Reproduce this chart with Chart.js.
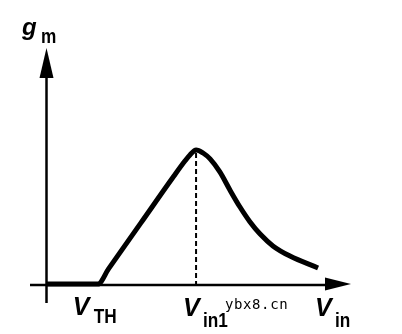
<!DOCTYPE html>
<html>
<head>
<meta charset="utf-8">
<script src="https://cdn.jsdelivr.net/npm/chart.js@4"></script>
<style>
html,body{margin:0;padding:0;background:#fff;}
#wrap{width:402px;height:334px;position:relative;}
</style>
</head>
<body>
<div id="wrap"><canvas id="c"></canvas></div>
<script>
// Data (arbitrary units)
const vin = [0, 17.0, 20.5, 31.0, 42.0, 45.6, 47.2, 49.2, 51.5, 53.8, 57.0, 60.3, 63.6, 66.9, 70.2, 74.4, 80.0, 89.2];
const gm  = [0.4, 0.4, 6.8, 26.0, 46.1, 52.4, 54.9, 57.0, 55.7, 53.2, 47.7, 40.1, 32.9, 26.6, 21.5, 16.5, 12.2, 7.2];
const tickValues = [17.0, 49.2, 100];
const tickMain = ['V', 'V', 'V'];
const tickSub = ['TH', 'in1', 'in'];
const yLabelMain = 'g';
const yLabelSub = 'm';
const watermark = 'ybx8.cn';
const peakIndex = 7;

const points = vin.map((x, i) => ({x: x, y: gm[i]}));

function txt(ctx, s, x, y, font, sx) {
  ctx.save();
  ctx.translate(x, y);
  ctx.scale(sx, 1);
  ctx.font = font;
  ctx.textAlign = 'left';
  ctx.textBaseline = 'alphabetic';
  ctx.fillStyle = '#000';
  ctx.fillText(s, 0, 0);
  ctx.restore();
}

const axesPlugin = {
  id: 'axesPlugin',
  afterDatasetsDraw(chart) {
    const ctx = chart.ctx;
    const xs = chart.scales.x, ys = chart.scales.y;
    const x0 = xs.getPixelForValue(0), x1 = xs.getPixelForValue(100);
    const y0 = ys.getPixelForValue(0), y1 = ys.getPixelForValue(100);
    ctx.save();
    ctx.strokeStyle = '#000';
    ctx.fillStyle = '#000';
    ctx.lineWidth = 2.5;
    // x axis
    ctx.beginPath();
    ctx.moveTo(x0 - 16, y0);
    ctx.lineTo(x1 - 20, y0);
    ctx.stroke();
    ctx.beginPath();
    ctx.moveTo(x1, y0 - 1);
    ctx.lineTo(x1 - 26, y0 - 7.5);
    ctx.lineTo(x1 - 26, y0 + 5.5);
    ctx.closePath();
    ctx.fill();
    // y axis
    ctx.beginPath();
    ctx.moveTo(x0 + 0.5, y0 + 18);
    ctx.lineTo(x0 + 0.5, y1 + 24);
    ctx.stroke();
    ctx.beginPath();
    ctx.moveTo(x0 + 0.5, y1);
    ctx.lineTo(x0 - 6.5, y1 + 30);
    ctx.lineTo(x0 + 7.5, y1 + 30);
    ctx.closePath();
    ctx.fill();
    // dashed line from peak to axis
    const px = xs.getPixelForValue(vin[peakIndex]);
    const py = ys.getPixelForValue(gm[peakIndex]);
    ctx.lineWidth = 2;
    ctx.setLineDash([5, 3]);
    ctx.beginPath();
    ctx.moveTo(px, py + 3);
    ctx.lineTo(px, y0);
    ctx.stroke();
    ctx.setLineDash([]);
    ctx.restore();

    // labels
    const mainFont = 'italic bold 25px "Liberation Sans", Arial, sans-serif';
    const subFont = 'bold 21px "Liberation Sans", Arial, sans-serif';
    const offs = [[-25, -4, 315, 323], [-13, 7, 316, 327], [-36, -16, 316, 327]];
    tickValues.forEach((v, i) => {
      const p = xs.getPixelForValue(v);
      const o = offs[i];
      txt(ctx, tickMain[i], p + o[0], o[2], mainFont, 1);
      txt(ctx, tickSub[i], p + o[1], o[3], subFont, 0.82);
    });
    // y label
    txt(ctx, yLabelMain, x0 - 24, 35, 'italic bold 24px "Liberation Sans", Arial, sans-serif', 1);
    txt(ctx, yLabelSub, x0 - 5, 43, subFont, 0.82);
    // watermark
    ctx.save();
    ctx.font = '14px "DejaVu Sans Mono", monospace';
    ctx.letterSpacing = '0.6px';
    ctx.fillStyle = '#000';
    ctx.textBaseline = 'alphabetic';
    ctx.fillText(watermark, 225, 309);
    ctx.restore();
  }
};

new Chart(document.getElementById('c'), {
  type: 'scatter',
  data: {
    datasets: [{
      data: points,
      showLine: true,
      borderColor: '#000',
      borderWidth: 5,
      borderCapStyle: 'butt',
      borderJoinStyle: 'round',
      pointRadius: 0,
      pointHoverRadius: 0,
      cubicInterpolationMode: 'monotone',
      clip: false
    }]
  },
  options: {
    responsive: true,
    maintainAspectRatio: false,
    animation: false,
    devicePixelRatio: 1,
    layout: {padding: {left: 46, right: 51, top: 48, bottom: 49}},
    plugins: {legend: {display: false}, tooltip: {enabled: false}, title: {display: false}},
    events: [],
    scales: {
      x: {type: 'linear', min: 0, max: 100, display: false},
      y: {type: 'linear', min: 0, max: 100, display: false}
    }
  },
  plugins: [axesPlugin]
});
</script>
</body>
</html>
